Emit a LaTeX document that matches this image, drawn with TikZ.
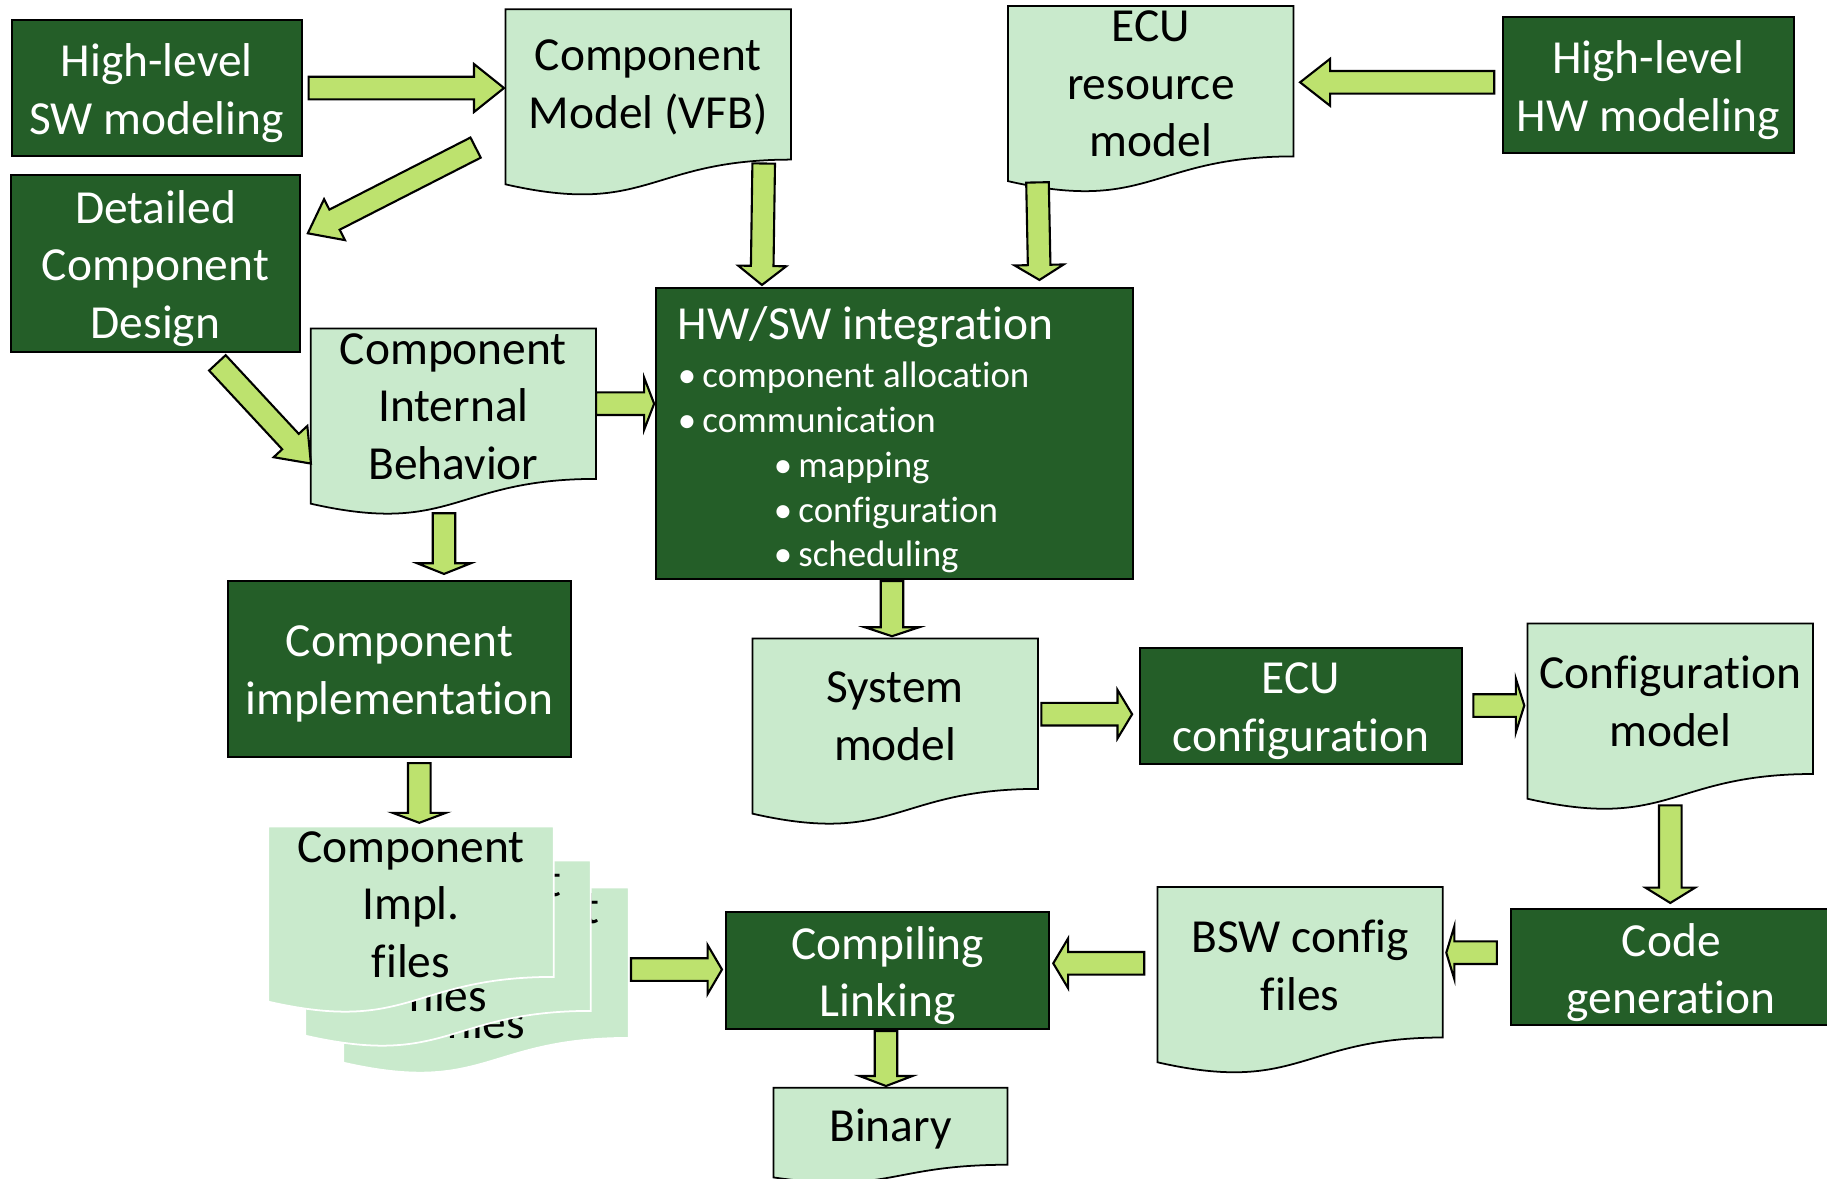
\documentclass[tikz,border=0pt]{standalone}
\usepackage{fontspec}
\setmainfont{Carlito}[Ligatures=NoCommon]
\usetikzlibrary{calc,positioning}

\definecolor{boxgreen}{RGB}{36,94,40}
\definecolor{docfill}{RGB}{201,234,204}
\definecolor{arrowfill}{RGB}{189,226,110}

\newcommand{\mainsize}{\fontsize{13.5pt}{16.4pt}\selectfont}
\newcommand{\bul}{\makebox[7pt][l]{•}}

% block arrow: from, to, head length, head half width
\newcommand{\fatarrow}[4]{%
  \coordinate (neck) at ($(#2)!#3!(#1)$);
  \draw[fatarrow] ($(#1)!1.13mm!90:(#2)$) -- ($(neck)!1.13mm!90:(#2)$)
    -- ($(neck)!#4!90:(#2)$) -- (#2) -- ($(neck)!#4!-90:(#2)$)
    -- ($(neck)!1.13mm!-90:(#2)$) -- ($(#1)!1.13mm!-90:(#2)$) -- cycle;}

% wavy bottom of a document node: node, outline colour
\newcommand{\docwave}[2]{%
  \fill[docfill] ([yshift=1pt]#1.south east) -- (#1.south east)
    .. controls (#1.south) and ($(#1.south)!-0.381!(#1.north)$)
    .. ($(#1.south west)!-0.1646!(#1.north west)$) -- ([yshift=1pt]#1.south west) -- cycle;
  \draw[docline, draw=#2] (#1.north west) -- (#1.north east) -- (#1.south east)
    .. controls (#1.south) and ($(#1.south)!-0.381!(#1.north)$)
    .. ($(#1.south west)!-0.1646!(#1.north west)$) -- cycle;}

\tikzset{
  darkbox/.style={draw=black, line width=0.6pt, fill=boxgreen, inner sep=0pt},
  boxtext/.style={align=center, text=white, font=\mainsize, yshift=-1.5pt},
  docbody/.style={fill=docfill, inner sep=0pt, minimum width=28.4mm, minimum height=14.9mm},
  doctext/.style={align=center, text=black, font=\mainsize, yshift=-0.8pt},
  docline/.style={line width=0.5pt},
  fatarrow/.style={draw=black, line width=0.6pt, fill=arrowfill, line join=miter},
}

\begin{document}
\begin{tikzpicture}[x=0.1mm, y=-0.1mm]

    \useasboundingbox (0,0) rectangle (1827,1179);

    % Define nodes
    \node[darkbox, minimum width=29mm, minimum height=13.6mm,
          label={[boxtext]center:{High-level\\SW modeling}}] (swhl) at (156.6,88) {};
    \node[darkbox, minimum width=29.13mm, minimum height=13.66mm,
          label={[boxtext]center:{High-level\\HW modeling}}] (hwhl) at (1648.2,85) {};
    \node[darkbox, minimum width=28.85mm, minimum height=17.67mm,
          label={[boxtext]center:{Detailed\\Component\\Design}}] (dcd) at (155.5,263.3) {};
    \node[darkbox, minimum width=34.25mm, minimum height=17.6mm,
          label={[boxtext]center:{Component\\implementation}}] (cimpl) at (399.5,668.7) {};
    \node[darkbox, minimum width=32.2mm, minimum height=11.63mm,
          label={[boxtext]center:{ECU\\configuration}}] (ecucfg) at (1301,705.9) {};
    \node[darkbox, minimum width=32.1mm, minimum height=11.6mm,
          label={[boxtext]center:{Code\\generation}}] (codegen) at (1671.3,967.3) {};
    \node[darkbox, minimum width=32.33mm, minimum height=11.63mm,
          label={[boxtext]center:{Compiling\\Linking}}] (compl) at (887.7,970.5) {};
    \node[darkbox, minimum width=47.7mm, minimum height=29.08mm, text width=43.3mm, inner xsep=2.2mm,
          align=flush left, text=white, font=\fontsize{10.5pt}{12.75pt}\selectfont] (hwsw) at (894.4,433.6)
         {{\mainsize\rule{0pt}{13pt}HW/SW integration}\\[0.9pt]
          \bul component allocation\\
          \bul communication\\
          \hspace*{27.3pt}\bul mapping\\
          \hspace*{27.3pt}\bul configuration\\
          \hspace*{27.3pt}\bul scheduling};

    \node[docbody] (cm) at (648.3,84.4) {};
    \node[docbody] (ecures) at (1150.8,81.2) {};
    \node[docbody] (cib) at (453.4,403.7) {};
    \node[docbody] (sysm) at (895.2,713.7) {};
    \node[docbody] (cfgm) at (1670.3,698.8) {};
    \node[docbody] (bsw) at (1300.1,962.3) {};
    \node[docbody, minimum width=23.24mm, minimum height=7.57mm] (binary) at (890.5,1126.2) {};
    \foreach \d in {cm,ecures,cib,sysm,cfgm,bsw,binary} {\docwave{\d}{black}}

    \node[doctext] (cm-t) at (cm) {Component\\Model (VFB)};
    \node[doctext] (ecures-t) at (ecures) {ECU\\resource\\model};
    \node[doctext] (cib-t) at (cib) {Component\\Internal\\Behavior};
    \node[doctext] (sysm-t) at (sysm) {System\\model};
    \node[doctext] (cfgm-t) at (cfgm) {Configuration\\model};
    \node[doctext] (bsw-t) at (bsw) {BSW config\\files};
    \node[doctext] (binary-t) at (binary) {Binary};

    % Stack of files
    \node[docbody] (impC) at (486,962.7) {};
    \docwave{impC}{white}
    \node[doctext] (impC-t) at (impC) {Component\\Impl.\\files};
    \node[docbody] (impB) at ([shift={(-38,-27)}]impC) {};
    \docwave{impB}{white}
    \node[doctext] (impB-t) at (impB) {Component\\Impl.\\files};
    \node[docbody] (impA) at ([shift={(-37,-34)}]impB) {};
    \docwave{impA}{white}
    \node[doctext] (impA-t) at (impA) {Component\\Impl.\\files};

    % Connect the nodes
    \fatarrow{[shift={(6,0)}]swhl.east}{[shift={(-1.6,3.6)}]cm.west}{3mm}{2.4mm}
    \fatarrow{[shift={(-30,-12)}]cm.south west}{[shift={(7,-30)}]dcd.east}{3mm}{2.3mm}
    \fatarrow{[shift={(-27.3,3.9)}]cm.south east}{[shift={(107.1,-2.2)}]hwsw.north west}{1.9mm}{2.4mm}
    \fatarrow{[shift={(29.4,26)}]ecures.south west}{[shift={(-94.5,-7.2)}]hwsw.north east}{1.5mm}{2.45mm}
    \fatarrow{[shift={(-7.3,-2.7)}]hwhl.west}{[shift={(6.6,1.1)}]ecures.east}{3mm}{2.35mm}
    \fatarrow{[shift={(61.9,10.15)}]dcd.south}{[shift={(0.2,-15.35)}]cib.south west}{3mm}{2.3mm}
    \fatarrow{cib.east}{[shift={(-0.7,-29.9)}]hwsw.west}{1mm}{2.6mm}
    \fatarrow{[shift={(-9.4,34.35)}]cib.south}{[shift={(44.5,-5.7)}]cimpl.north}{1.07mm}{2.68mm}
    \fatarrow{[shift={(-2.4,1)}]hwsw.south}{[shift={(-3.2,-2.3)}]sysm.north}{0.9mm}{2.73mm}
    \fatarrow{[shift={(3.5,0.5)}]sysm.east}{[shift={(-6.8,8.3)}]ecucfg.west}{1.46mm}{2.42mm}
    \fatarrow{[shift={(10.3,-0.4)}]ecucfg.east}{[shift={(-3.3,6.7)}]cfgm.west}{0.84mm}{2.67mm}
    \fatarrow{[shift={(0,31.35)}]cfgm.south}{[shift={(-1,-5.3)}]codegen.north}{1.53mm}{2.48mm}
    \fatarrow{[shift={(-12.9,-14.6)}]codegen.west}{[shift={(3.5,-9.6)}]bsw.east}{0.8mm}{2.63mm}
    \fatarrow{[shift={(-13.2,1)}]bsw.west}{[shift={(2.85,-7.2)}]compl.east}{1.48mm}{2.48mm}
    \fatarrow{[shift={(2.3,6.8)}]impC.east}{[shift={(-3,-1)}]compl.west}{1.44mm}{2.45mm}
    \fatarrow{[shift={(-1.7,1.35)}]compl.south}{[shift={(-4.5,-1.65)}]binary.north}{1mm}{2.64mm}
    \fatarrow{[shift={(19.8,5.3)}]cimpl.south}{[shift={(8.3,-3.7)}]impA.north}{1mm}{2.67mm}

\end{tikzpicture}
\end{document}
